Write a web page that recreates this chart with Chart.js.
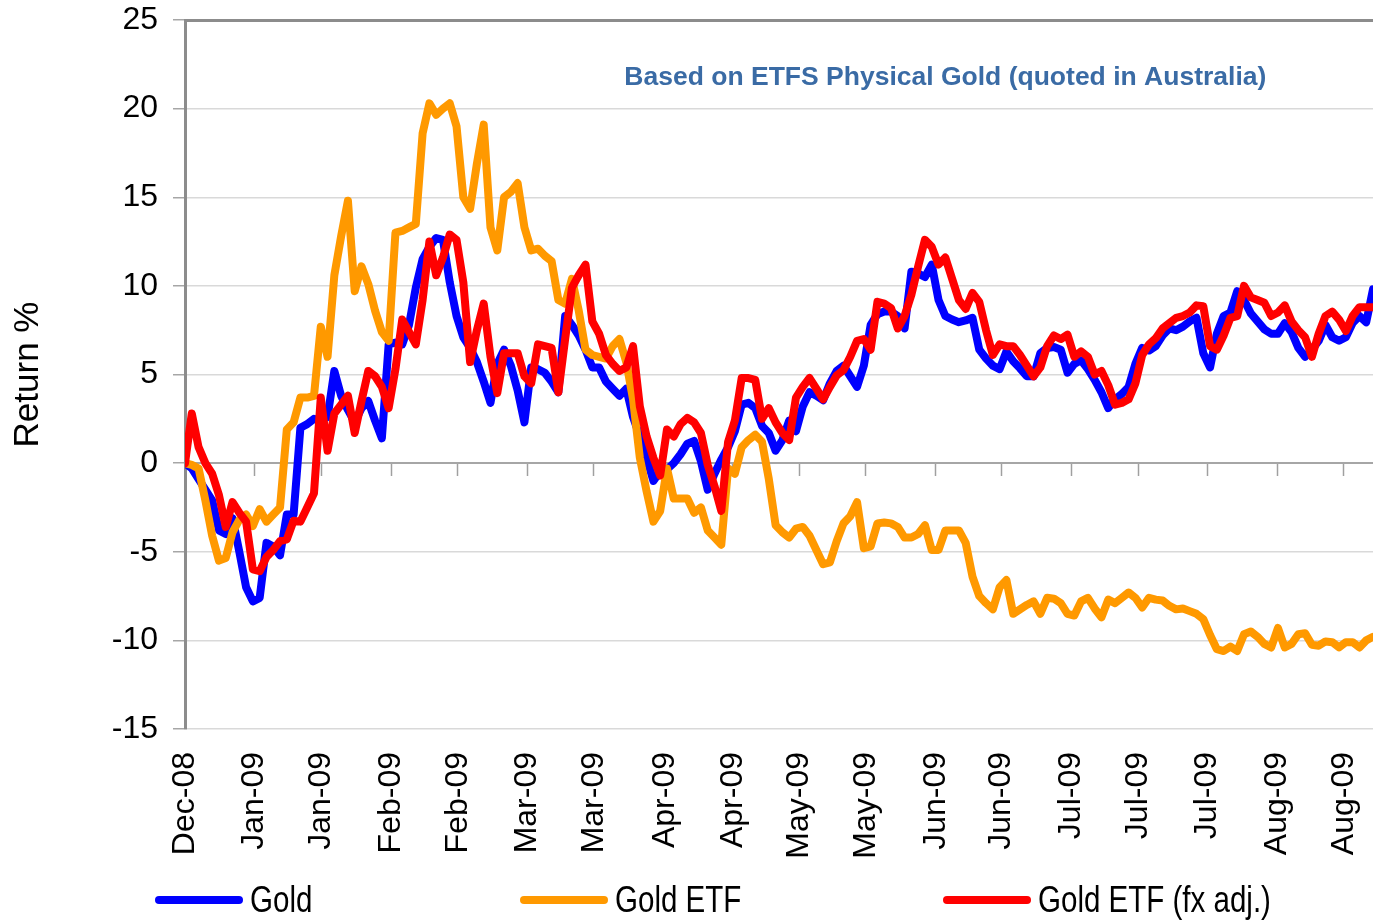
<!DOCTYPE html>
<html>
<head>
<meta charset="utf-8">
<script src="https://cdn.jsdelivr.net/npm/chart.js@4.4.1/dist/chart.umd.min.js"></script>
<style>
  html, body { margin: 0; padding: 0; background: #fff; }
</style>
</head>
<body>
<canvas id="graficoOuro" width="1373" height="920"></canvas>
<script>
// Eixo x: um ponto por dia útil, rótulos a cada ~10 dias
const tickPos = [0, 10.2, 20.1, 30.4, 40.2, 50.4, 60.2, 70.7, 80.7, 90.5, 100.3, 110.6, 120.3, 130.6, 140.4, 150.6, 160.9, 170.7];
const tickLabels = ['Dec-08', 'Jan-09', 'Jan-09', 'Feb-09', 'Feb-09', 'Mar-09', 'Mar-09', 'Apr-09', 'Apr-09',
  'May-09', 'May-09', 'Jun-09', 'Jun-09', 'Jul-09', 'Jul-09', 'Jul-09', 'Aug-09', 'Aug-09'];

const seriesNames = ['Gold', 'Gold ETF', 'Gold ETF (fx adj.)'];

// Retorno %
const gold = [
  0, -0.3, -0.9, -1.5, -2.1, -3.8, -4.0, -3.1, -5.0, -7.0,
  -7.8, -7.6, -4.5, -4.7, -5.2, -2.9, -2.9, 2.0, 2.2, 2.5,
  2.4, 2.6, 5.2, 3.8, 3.0, 2.3, 3.1, 3.5, 2.4, 1.4,
  6.7, 6.8, 6.7, 7.8, 9.9, 11.5, 12.2, 12.7, 12.6, 10.2,
  8.3, 7.1, 6.5, 5.7, 4.6, 3.4, 5.6, 6.4, 5.5, 4.1,
  2.3, 5.4, 5.3, 5.1, 4.6, 4.0, 8.3, 7.8, 7.2, 6.4,
  5.4, 5.4, 4.6, 4.2, 3.8, 4.2, 2.6, 1.5, 0.3, -1.0,
  -0.45, -0.35, 0.0, 0.5, 1.1, 1.25, 0.1, -1.5, -0.6, 0.2,
  0.9, 1.8, 3.3, 3.4, 3.1, 2.1, 1.7, 0.7, 1.3, 2.4,
  1.8, 3.2, 4.0, 3.8, 3.55, 4.5, 5.2, 5.5, 4.9, 4.3,
  5.5, 7.8, 8.4, 8.55, 8.55, 8.3, 7.6, 10.8, 10.7, 10.5,
  11.2, 9.2, 8.3, 8.1, 7.95, 8.05, 8.2, 6.4, 5.9, 5.5,
  5.3, 6.3, 5.75, 5.35, 4.9, 4.9, 6.2, 6.5, 6.55, 6.4,
  5.1, 5.6, 5.8, 5.3, 4.7, 4.0, 3.1, 3.6, 3.9, 4.3,
  5.6, 6.5, 6.35, 6.6, 7.2, 7.6, 7.5, 7.7, 8.0, 8.2,
  6.2, 5.4, 7.3, 8.3, 8.5, 9.7, 9.2, 8.45, 8.0, 7.55,
  7.3, 7.3, 7.9, 7.4, 6.5, 6.0, 6.4, 6.9, 7.8, 7.1,
  6.9, 7.1, 7.9, 8.3, 7.95, 9.8
];

const goldEtf = [
  0, -0.1, -0.3, -2.1, -4.1, -5.5, -5.35, -3.9, -3.2, -2.9,
  -3.55, -2.6, -3.3, -2.9, -2.5, 1.9, 2.3, 3.7, 3.7, 3.8,
  7.7, 6.0, 10.6, 12.8, 14.8, 9.7, 11.1, 10.1, 8.6, 7.4,
  6.9, 13.0, 13.1, 13.3, 13.5, 18.6, 20.3, 19.65, 20.0, 20.3,
  19.0, 15.0, 14.35, 16.9, 19.1, 13.3, 12.0, 15.0, 15.3, 15.8,
  13.3, 12.0, 12.1, 11.7, 11.4, 9.2, 9.0, 10.4, 8.6, 6.4,
  6.1, 6.0, 5.9, 6.6, 7.0, 5.7, 3.6, 0.3, -1.6, -3.3,
  -2.7, -0.3, -2.0, -2.0, -2.0, -2.8, -2.5, -3.8, -4.2, -4.6,
  -0.3, -0.6, 0.9, 1.3, 1.6, 1.2, -0.9, -3.5, -3.9, -4.2,
  -3.7, -3.6, -4.1, -4.9, -5.7, -5.6, -4.4, -3.4, -3.0, -2.2,
  -4.8, -4.7, -3.4, -3.35, -3.4, -3.6, -4.2, -4.2, -4.0, -3.5,
  -4.9, -4.9, -3.8, -3.8, -3.8, -4.5, -6.4, -7.5, -7.9, -8.25,
  -7.0, -6.6, -8.5, -8.25, -8.0, -7.8, -8.5, -7.6, -7.65, -7.9,
  -8.5, -8.6, -7.8, -7.6, -8.2, -8.7, -7.7, -7.9, -7.6, -7.3,
  -7.6, -8.15, -7.6, -7.7, -7.75, -8.05, -8.25, -8.2, -8.35, -8.5,
  -8.8, -9.7, -10.5, -10.6, -10.35, -10.6, -9.65, -9.5, -9.8, -10.2,
  -10.4, -9.3, -10.4, -10.2, -9.65, -9.6, -10.25, -10.3, -10.06, -10.1,
  -10.4, -10.1, -10.1, -10.4, -10.0, -9.8
];

const goldEtfFx = [
  0, 2.8, 0.9, 0.0, -0.6, -1.8, -3.6, -2.2, -2.8, -3.3,
  -6.0, -6.1, -5.3, -4.9, -4.4, -4.3, -3.25, -3.3, -2.5, -1.7,
  3.7, 0.7, 2.8, 3.3, 3.8, 1.7, 3.5, 5.2, 4.9, 4.3,
  3.1, 5.3, 8.1, 7.4, 6.7, 9.2, 12.5, 10.6, 11.6, 12.9,
  12.6, 10.2, 5.7, 7.5, 9.0, 6.0, 3.95, 6.2, 6.2, 6.2,
  4.9, 4.5, 6.7, 6.6, 6.5, 4.0, 7.0, 9.9, 10.6, 11.2,
  8.0, 7.3, 6.1, 5.6, 5.2, 5.4, 6.6, 3.2, 1.5, 0.3,
  -0.7, 1.9, 1.5, 2.2, 2.55, 2.3, 1.7, -0.1, -1.3, -2.7,
  1.2, 2.4, 4.8, 4.8, 4.7, 2.5, 3.1, 2.3, 1.7, 1.3,
  3.7, 4.3, 4.8, 4.2, 3.6, 4.3, 4.95, 5.25, 6.0, 6.9,
  7.0, 6.4, 9.1, 9.0, 8.75, 7.6, 8.3, 9.5, 11.1, 12.6,
  12.2, 11.2, 11.6, 10.4, 9.2, 8.7, 9.6, 9.1, 7.5, 6.1,
  6.7, 6.6, 6.6, 6.1, 5.5, 4.9, 5.4, 6.6, 7.2, 7.0,
  7.25, 6.0, 6.3, 6.0, 5.0, 5.2, 4.4, 3.3, 3.4, 3.6,
  4.5, 6.1, 6.7, 7.05, 7.6, 7.9, 8.2, 8.3, 8.5, 8.9,
  8.85, 6.6, 6.4, 7.2, 8.2, 8.3, 10.0, 9.35, 9.2, 9.05,
  8.3, 8.5, 8.9, 8.0, 7.5, 7.1, 6.0, 7.3, 8.3, 8.55,
  8.1, 7.45, 8.3, 8.8, 8.8, 8.8
];

const cores = ['#0000ff', '#ff9900', '#ff0000'];
const tituloInterno = 'Based on ETFS Physical Gold (quoted in Australia)';
const legendaX = [155, 520, 943];

const pontos = arr => arr.map((v, i) => ({ x: i, y: v }));
const ultimoIndice = gold.length - 1;

// título dentro da área do gráfico e legenda embaixo
const extras = {
  id: 'extras',
  afterDraw(chart) {
    const { ctx, chartArea } = chart;
    ctx.save();
    ctx.font = 'bold 26.5px "Liberation Sans", Arial, sans-serif';
    ctx.fillStyle = '#3a6ba5';
    ctx.textAlign = 'center';
    ctx.textBaseline = 'middle';
    ctx.fillText(tituloInterno, chartArea.left + chartArea.width * 0.64, 78);

    ctx.font = '36px "Liberation Sans", Arial, sans-serif';
    ctx.textAlign = 'left';
    ctx.fillStyle = '#000';
    ctx.lineWidth = 8;
    ctx.lineCap = 'round';
    legendaX.forEach((x, i) => {
      ctx.strokeStyle = cores[i];
      ctx.beginPath();
      ctx.moveTo(x + 4, 900);
      ctx.lineTo(x + 84, 900);
      ctx.stroke();
      // texto estreito (como Arial Narrow)
      ctx.save();
      ctx.translate(x + 95, 902);
      ctx.scale(0.82, 1);
      ctx.fillText(seriesNames[i], 0, 0);
      ctx.restore();
    });
    ctx.restore();
  }
};

const ticksFixos = s => { s.ticks = tickPos.map(v => ({ value: v })); };

const ctx = document.getElementById('graficoOuro').getContext('2d');
const grafico = new Chart(ctx, {
  type: 'line',
  data: {
    datasets: [
      { label: seriesNames[0], data: pontos(gold), borderColor: cores[0], order: 3 },
      { label: seriesNames[1], data: pontos(goldEtf), borderColor: cores[1], order: 2 },
      { label: seriesNames[2], data: pontos(goldEtfFx), borderColor: cores[2], order: 1 }
    ]
  },
  options: {
    responsive: false,
    animation: false,
    devicePixelRatio: 1,
    layout: { padding: 0 },
    elements: {
      line: { borderWidth: 8, tension: 0, borderJoinStyle: 'round', borderCapStyle: 'round', fill: false },
      point: { radius: 0, hoverRadius: 0 }
    },
    scales: {
      x: {
        type: 'linear',
        position: 'bottom',
        min: 0,
        max: ultimoIndice,
        afterBuildTicks: ticksFixos,
        afterFit: s => { s.height = 191; s.paddingLeft = 0; s.paddingRight = 0; },
        grid: { display: false },
        border: { display: false },
        ticks: {
          autoSkip: false,
          minRotation: 90,
          maxRotation: 90,
          padding: 15,
          color: '#000',
          font: { family: '"Liberation Sans", Arial, sans-serif', size: 32 },
          callback: (v, i) => tickLabels[i]
        }
      },
      xZero: {
        type: 'linear',
        position: { y: 0 },
        min: 0,
        max: ultimoIndice,
        afterBuildTicks: ticksFixos,
        afterFit: s => { s.height = 0; s.paddingLeft = 0; s.paddingRight = 0; },
        grid: { drawOnChartArea: false, drawTicks: true, tickLength: 12, tickColor: '#a0a0a0', tickWidth: 1.5 },
        border: { color: '#a6a6a6', width: 2 },
        ticks: { display: false }
      },
      xTopo: {
        type: 'linear',
        position: 'top',
        min: 0,
        max: ultimoIndice,
        afterFit: s => { s.height = 20; s.paddingLeft = 0; s.paddingRight = 0; },
        grid: { display: false },
        border: { color: '#8c8c8c', width: 3 },
        ticks: { display: false }
      },
      y: {
        min: -15,
        max: 25,
        afterFit: s => { s.width = 185; s.paddingTop = 0; s.paddingBottom = 0; },
        ticks: {
          stepSize: 5,
          padding: 15,
          color: '#000',
          font: { family: '"Liberation Sans", Arial, sans-serif', size: 32 }
        },
        grid: { color: '#d9d9d9', lineWidth: 1.5, tickLength: 12, tickColor: '#a6a6a6', tickWidth: 1.5 },
        border: { color: '#8c8c8c', width: 3 },
        title: {
          display: true,
          text: 'Return %',
          color: '#000',
          padding: { top: 7, bottom: 0 },
          font: { family: '"Liberation Sans", Arial, sans-serif', size: 35 }
        }
      }
    },
    plugins: {
      legend: { display: false },
      tooltip: { enabled: false }
    }
  },
  plugins: [extras]
});
</script>
</body>
</html>
